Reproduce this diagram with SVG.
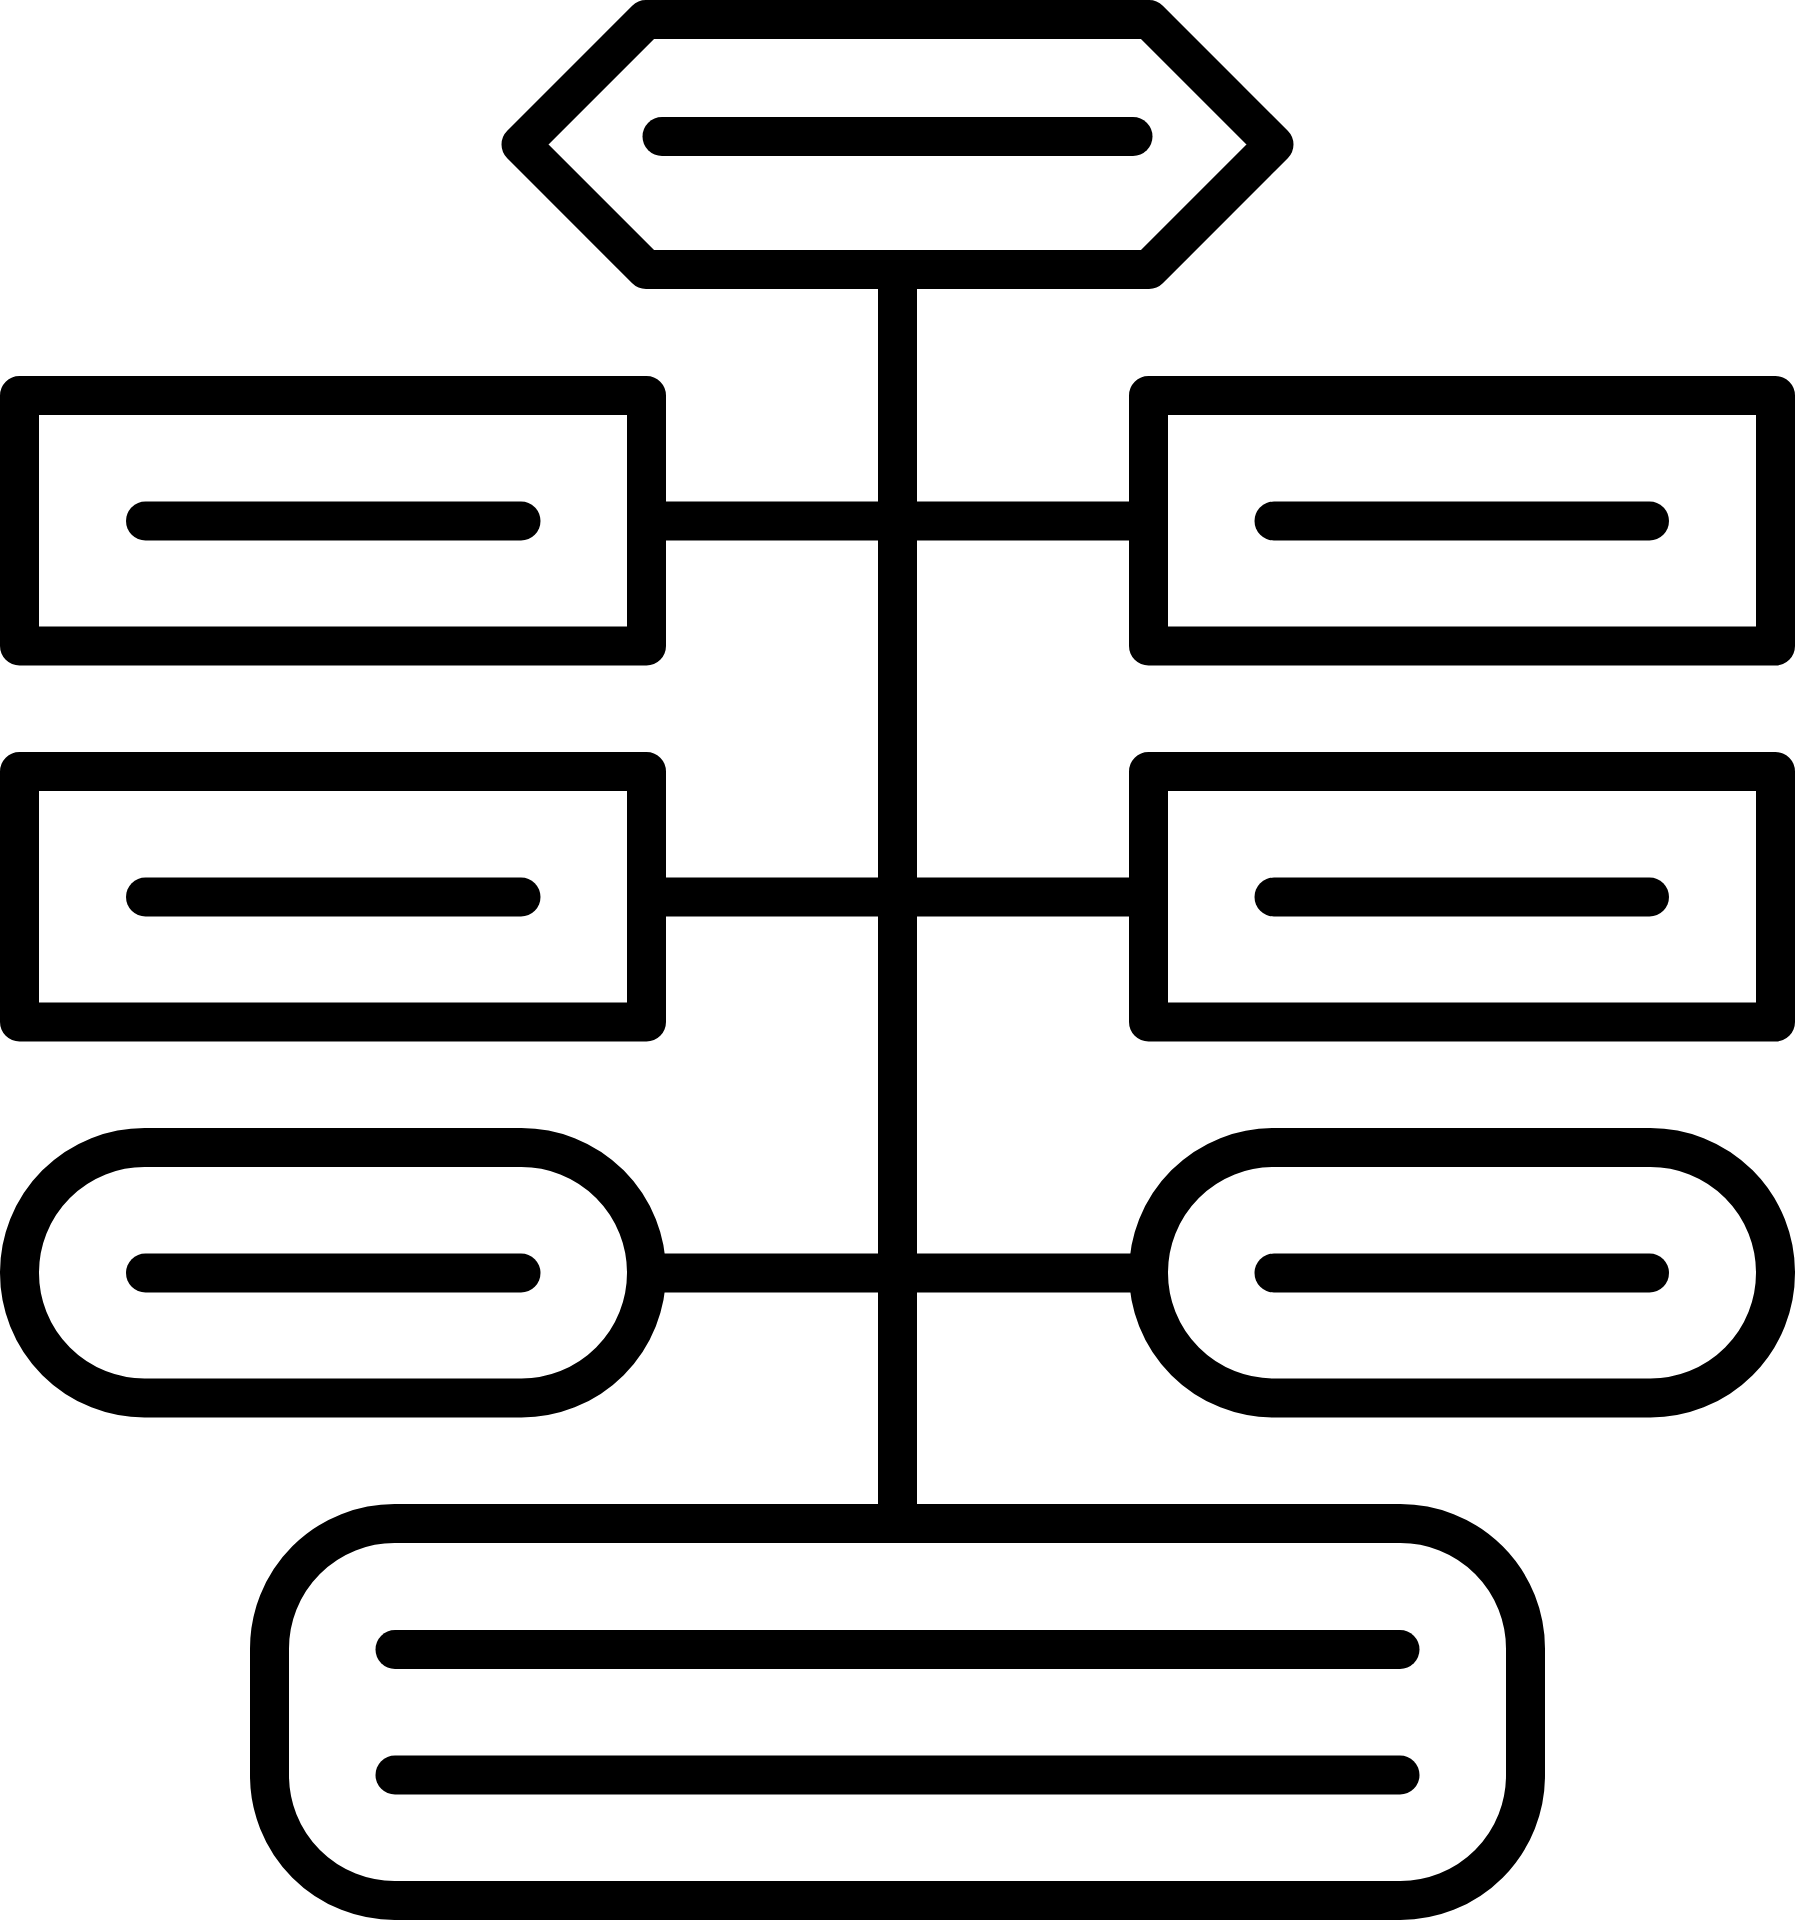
<svg xmlns="http://www.w3.org/2000/svg" width="1795" height="1920" viewBox="0 0 1795 1920">
<style>
.s{fill:none;stroke:#000;stroke-width:39;stroke-linejoin:round}
.t{fill:none;stroke:#000;stroke-width:39;stroke-linecap:round}
.c{fill:none;stroke:#000;stroke-width:39;stroke-linecap:butt}
</style>
<g id="connectors">
<line class="c" x1="897.5" y1="269.5" x2="897.5" y2="1523.5"/>
<line class="c" x1="646.5" y1="521" x2="1148.5" y2="521"/>
<line class="c" x1="646.5" y1="897" x2="1148.5" y2="897"/>
<line class="c" x1="646.5" y1="1273" x2="1148.5" y2="1273"/>
</g>
<g id="top">
<polygon class="s" points="646,19.5 1149,19.5 1274,144.5 1149,269.5 646,269.5 521,144.5"/>
<line class="t" x1="662" y1="136.5" x2="1133" y2="136.5"/>
</g>
<g id="left1">
<rect class="s" x="19.5" y="395.5" width="627" height="250.5"/>
<line class="t" x1="145.5" y1="521" x2="521" y2="521"/>
</g>
<g id="right1">
<rect class="s" x="1148.5" y="395.5" width="627" height="250.5"/>
<line class="t" x1="1274" y1="521" x2="1649.5" y2="521"/>
</g>
<g id="left2">
<rect class="s" x="19.5" y="771.5" width="627" height="250.5"/>
<line class="t" x1="145.5" y1="897" x2="521" y2="897"/>
</g>
<g id="right2">
<rect class="s" x="1148.5" y="771.5" width="627" height="250.5"/>
<line class="t" x1="1274" y1="897" x2="1649.5" y2="897"/>
</g>
<g id="left3">
<rect class="s" x="19.5" y="1147.5" width="627" height="250.5" rx="125" ry="125"/>
<line class="t" x1="145.5" y1="1273" x2="521" y2="1273"/>
</g>
<g id="right3">
<rect class="s" x="1148.5" y="1147.5" width="627" height="250.5" rx="125" ry="125"/>
<line class="t" x1="1274" y1="1273" x2="1649.5" y2="1273"/>
</g>
<g id="bottom">
<rect class="s" x="269.5" y="1523.5" width="1256" height="377" rx="125" ry="125"/>
<line class="t" x1="395" y1="1649.5" x2="1400" y2="1649.5"/>
<line class="t" x1="395" y1="1775" x2="1400" y2="1775"/>
</g>
</svg>
